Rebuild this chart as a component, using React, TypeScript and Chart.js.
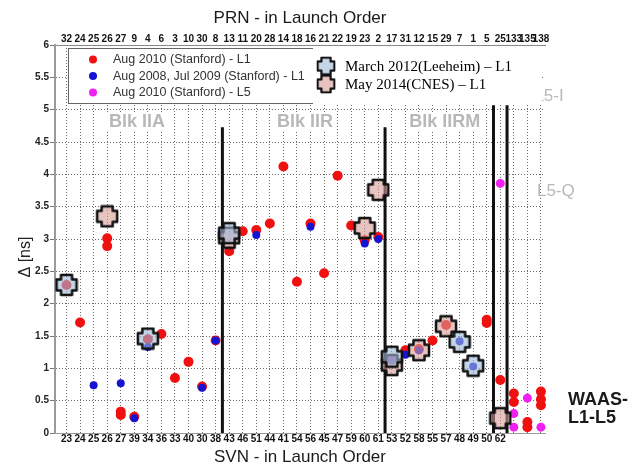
import React, { useEffect, useRef } from 'react';
import { Chart, registerables } from 'chart.js';

Chart.register(...registerables);

// ---- Axis labels (column index = launch order position) ----
const svnLabels = ['23', '24', '25', '26', '27', '39', '34', '36', '33', '40', '30', '38', '43', '46', '51', '44', '41', '54', '56', '45', '47', '59', '60', '61', '53', '52', '58', '55', '57', '48', '49', '50', '62', '', '', ''];
const prnLabels = ['32', '24', '25', '26', '27', '9', '4', '6', '3', '10', '30', '8', '13', '11', '20', '28', '14', '18', '16', '21', '22', '19', '23', '2', '17', '31', '12', '15', '29', '7', '1', '5', '25', '133', '135', '138'];
const yTicks = [0, 0.5, 1, 1.5, 2, 2.5, 3, 3.5, 4, 4.5, 5, 5.5, 6];

// ---- Series: [column, delta ns] ----
const aug2010L1: [number, number][] = [
  [0, 2.29], [1, 1.71], [3, 3.01], [3, 2.89], [4, 0.33], [4, 0.28], [5, 0.25], [6, 1.45], [7, 1.53], [8, 0.85],
  [9, 1.1], [10, 0.72], [11, 1.43], [12, 2.81], [13, 3.12], [14, 3.14], [15, 3.24], [16, 4.12], [17, 2.34], [18, 3.24],
  [19, 2.47], [20, 3.98], [21, 3.21], [22, 2.98], [23, 3.03], [24, 1.15], [25, 1.28], [26, 1.3], [27, 1.43], [28, 1.67],
  [31, 1.75], [31, 1.7], [32, 0.82], [33, 0.61], [33, 0.48], [34, 0.17], [34, 0.09], [35, 0.64], [35, 0.52], [35, 0.43],
];
const aug2008L1: [number, number][] = [
  [2, 0.74], [4, 0.77], [5, 0.23], [6, 1.33], [10, 0.7], [11, 1.43], [14, 3.06], [18, 3.19], [22, 2.93], [23, 3.0],
  [24, 1.12], [25, 1.21], [26, 1.28], [29, 1.42], [30, 1.03],
];
const aug2010L5: [number, number][] = [
  [32, 3.86], [33, 0.3], [33, 0.09], [34, 0.54], [35, 0.09],
];
const leeheim2012: [number, number][] = [
  [0, 2.29], [6, 1.46], [12, 3.09], [24, 1.18], [29, 1.41], [30, 1.04],
];
const cnes2014: [number, number][] = [
  [3, 3.35], [12, 3.02], [22, 3.17], [23, 3.76], [24, 1.05], [26, 1.28], [28, 1.65], [32, 0.23],
];

// ---- Block separators (column boundary, top in ns) ----
const sepX = [11.5, 23.5, 31.5, 32.5];
const sepTop = [4.73, 4.73, 5.07, 5.07];

// ---- Text annotations (data coordinates) ----
const blockNames = ['Blk IIA', 'Blk IIR', 'Blk IIRM'];
const blockX = [5.2, 17.6, 27.9];
const blockY = 4.81;
const sideNames = ['L5-I', 'L5-Q'];
const sideX = [35.6, 36.1];
const sideY = [5.21, 3.73];
const waasLines = ['WAAS-', 'L1-L5'];
const waasX = 37.0;
const waasY = [0.51, 0.23];

const FONT = "'Liberation Sans', Arial, sans-serif";
const SERIF = "'Liberation Serif', 'Times New Roman', serif";

function makeCross(fill: string, size = 24, armFrac = 0.23) {
  const c = document.createElement('canvas');
  c.width = size;
  c.height = size;
  const ctx = c.getContext('2d')!;
  const m = size / 2;
  const a = size * armFrac;
  const L = size / 2 - 2;
  ctx.beginPath();
  ctx.moveTo(m - a, m - L);
  ctx.lineTo(m + a, m - L);
  ctx.lineTo(m + a, m - a);
  ctx.lineTo(m + L, m - a);
  ctx.lineTo(m + L, m + a);
  ctx.lineTo(m + a, m + a);
  ctx.lineTo(m + a, m + L);
  ctx.lineTo(m - a, m + L);
  ctx.lineTo(m - a, m + a);
  ctx.lineTo(m - L, m + a);
  ctx.lineTo(m - L, m - a);
  ctx.lineTo(m - a, m - a);
  ctx.closePath();
  ctx.lineJoin = 'round';
  ctx.fillStyle = fill;
  ctx.fill();
  ctx.lineWidth = 2.5;
  ctx.strokeStyle = '#111';
  ctx.stroke();
  return c;
}

const toXY = (arr: [number, number][]) => arr.map(([x, y]) => ({ x, y }));

export default function App() {
  const ref = useRef<HTMLCanvasElement>(null);

  useEffect(() => {
    document.body.style.margin = '0';
    const leeCross = makeCross('rgba(158,185,217,0.6)');
    const cnesCross = makeCross('rgba(217,157,150,0.6)');
    const cols = svnLabels.map((_, i) => i);

    const sepDatasets = sepX.map((sx, i) => ({
      label: 'sep' + i,
      data: [{ x: sx, y: 0 }, { x: sx, y: sepTop[i] }],
      showLine: true,
      borderColor: '#111',
      borderWidth: 3,
      pointRadius: 0,
      order: 10,
      clip: false as any,
    }));

    const decor = {
      id: 'decor',
      afterDatasetsDraw(chart: any) {
        const { ctx, scales } = chart;
        const xs = scales.x;
        const ys = scales.y;
        ctx.save();
        // block labels with white background
        ctx.font = `bold 18px ${FONT}`;
        ctx.textAlign = 'center';
        ctx.textBaseline = 'middle';
        blockNames.forEach((t, i) => {
          const px = xs.getPixelForValue(blockX[i]);
          const py = ys.getPixelForValue(blockY);
          const w = ctx.measureText(t).width;
          ctx.fillStyle = '#fff';
          ctx.fillRect(px - w / 2 - 3, py - 10, w + 6, 20);
          ctx.fillStyle = '#b8b8b8';
          ctx.fillText(t, px, py);
        });
        ctx.font = `17px ${FONT}`;
        sideNames.forEach((t, i) => {
          ctx.fillStyle = '#b8b8b8';
          ctx.fillText(t, xs.getPixelForValue(sideX[i]), ys.getPixelForValue(sideY[i]));
        });
        ctx.font = `bold 18px ${FONT}`;
        ctx.textAlign = 'left';
        ctx.fillStyle = '#1a1a1a';
        waasLines.forEach((t, i) => {
          ctx.fillText(t, xs.getPixelForValue(waasX), ys.getPixelForValue(waasY[i]));
        });

        // y axis title
        ctx.save();
        ctx.translate(26, 257);
        ctx.rotate(-Math.PI / 2);
        ctx.font = `16px ${FONT}`;
        ctx.textAlign = 'center';
        ctx.fillStyle = '#222';
        ctx.fillText('\u0394 [ns]', 0, 0);
        ctx.restore();

        // legend 1
        const ds = chart.data.datasets;
        ctx.fillStyle = '#fff';
        ctx.fillRect(68, 48, 245, 55);
        ctx.strokeStyle = '#666';
        ctx.lineWidth = 1;
        ctx.strokeRect(68.5, 48.5, 245, 55);
        const rows = [59.5, 76, 92.5];
        ctx.font = `12.5px ${FONT}`;
        ctx.textAlign = 'left';
        ctx.textBaseline = 'middle';
        [0, 1, 2].forEach((k, i) => {
          ctx.fillStyle = ds[k].backgroundColor;
          ctx.beginPath();
          ctx.arc(93, rows[i], 4, 0, Math.PI * 2);
          ctx.fill();
          ctx.fillStyle = '#333';
          ctx.fillText(ds[k].label, 113, rows[i] + 0.5);
        });

        // legend 2
        ctx.fillStyle = '#fff';
        ctx.fillRect(313, 47, 229, 57);
        const rows2 = [66, 84];
        [3, 4].forEach((k, i) => {
          const img = ds[k].pointStyle;
          ctx.drawImage(img, 326 - 10, rows2[i] - 10, 20, 20);
          ctx.fillStyle = '#000';
          ctx.font = `15px ${SERIF}`;
          ctx.fillText(ds[k].label, 345, rows2[i] + 1);
        });
        ctx.restore();
      },
    };

    const chart = new Chart(ref.current!, {
      type: 'scatter',
      data: {
        datasets: [
          {
            label: 'Aug 2010 (Stanford) - L1',
            data: toXY(aug2010L1),
            backgroundColor: '#f01010',
            borderColor: '#f01010',
            pointRadius: 5,
            borderWidth: 0,
            order: 3,
            clip: false as any,
          },
          {
            label: 'Aug 2008, Jul 2009 (Stanford) - L1',
            data: toXY(aug2008L1),
            backgroundColor: '#1414d2',
            borderColor: '#1414d2',
            pointRadius: 4,
            borderWidth: 0,
            order: 1,
            clip: false as any,
          },
          {
            label: 'Aug 2010 (Stanford) - L5',
            data: toXY(aug2010L5),
            backgroundColor: '#f020f0',
            borderColor: '#f020f0',
            pointRadius: 4.5,
            borderWidth: 0,
            order: 2,
            clip: false as any,
          },
          {
            label: 'March 2012(Leeheim) \u2013 L1',
            data: toXY(leeheim2012),
            pointStyle: leeCross as any,
            pointRadius: 11,
            backgroundColor: 'rgba(158,185,217,0.6)',
            order: 0,
            clip: false as any,
          },
          {
            label: 'May 2014(CNES) \u2013 L1',
            data: toXY(cnes2014),
            pointStyle: cnesCross as any,
            pointRadius: 11,
            backgroundColor: 'rgba(217,157,150,0.6)',
            order: 0,
            clip: false as any,
          },
          ...sepDatasets,
        ] as any,
      },
      options: {
        responsive: false,
        animation: false,
        events: [],
        layout: { padding: { left: 0, right: 93, top: 0, bottom: 0 } },
        plugins: {
          legend: { display: false },
          tooltip: { enabled: false },
        },
        scales: {
          x: {
            type: 'linear',
            position: 'bottom',
            min: -0.85,
            max: 35.3,
            afterBuildTicks: (s: any) => { s.ticks = cols.map((v) => ({ value: v })); },
            afterFit: (s: any) => { s.height = 33; },
            ticks: {
              autoSkip: false,
              maxRotation: 0,
              padding: 1,
              color: '#111',
              font: { family: FONT, size: 10, weight: 'bold', lineHeight: 1 },
              callback: (v: any) => svnLabels[Math.round(v)] ?? '',
            },
            grid: {
              color: '#6a6a6a',
              drawTicks: false,
            } as any,
            border: { display: true, color: '#999', width: 1, dash: [1, 2] } as any,
            title: {
              display: true,
              text: 'SVN - in Launch Order',
              color: '#1a1a1a',
              font: { family: FONT, size: 17, lineHeight: 1 },
              padding: { top: 0, bottom: 0 },
            },
          },
          x2: {
            type: 'linear',
            position: 'top',
            min: -0.85,
            max: 35.3,
            afterBuildTicks: (s: any) => { s.ticks = cols.map((v) => ({ value: v })); },
            afterFit: (s: any) => { s.height = 45; },
            ticks: {
              autoSkip: false,
              maxRotation: 0,
              padding: 1,
              color: '#111',
              font: { family: FONT, size: 10, weight: 'bold', lineHeight: 1 },
              callback: (v: any) => prnLabels[Math.round(v)] ?? '',
            },
            grid: { display: false, drawTicks: false },
            border: { display: true, color: '#888', width: 1, dash: [2, 2] } as any,
            title: {
              display: true,
              text: 'PRN - in Launch Order',
              color: '#1a1a1a',
              font: { family: FONT, size: 17, lineHeight: 1 },
              padding: { top: 10, bottom: 0 },
            },
          },
          y: {
            type: 'linear',
            min: 0,
            max: 6,
            afterBuildTicks: (s: any) => { s.ticks = yTicks.map((v) => ({ value: v })); },
            afterFit: (s: any) => { s.width = 55; },
            ticks: {
              padding: 1,
              color: '#222',
              font: { family: FONT, size: 10, weight: 'bold' },
              callback: (v: any) => String(v),
            },
            grid: {
              color: '#6a6a6a',
              drawTicks: true,
              tickLength: 5,
              tickColor: '#777',
              tickBorderDash: [],
              tickWidth: 1,
            } as any,
            border: { display: true, color: '#9a9a9a', width: 2, dash: [1, 2] } as any,
          },
        },
      } as any,
      plugins: [decor],
    });
    return () => chart.destroy();
  }, []);

  return (
    <div style={{ position: 'relative', width: 638, height: 466 }}>
      <canvas ref={ref} width={638} height={466} style={{ display: 'block' }} />
    </div>
  );
}
